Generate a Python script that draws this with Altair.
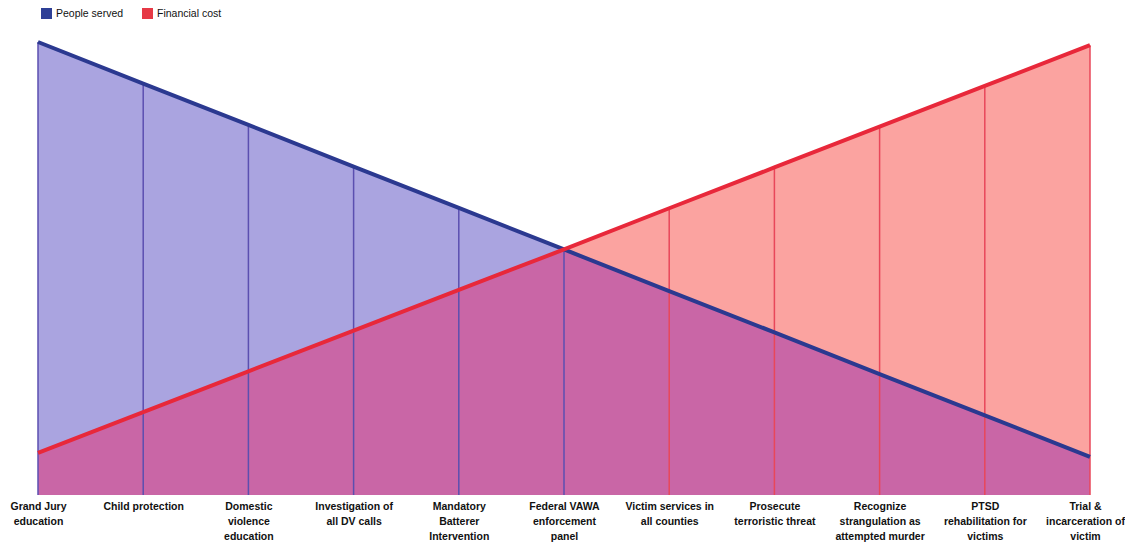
import altair as alt
import pandas as pd

categories = [
    "Grand Jury\neducation",
    "Child protection",
    "Domestic\nviolence\neducation",
    "Investigation of\nall DV calls",
    "Mandatory\nBatterer\nIntervention",
    "Federal VAWA\nenforcement\npanel",
    "Victim services in\nall counties",
    "Prosecute\nterroristic threat",
    "Recognize\nstrangulation as\nattempted murder",
    "PTSD\nrehabilitation for\nvictims",
    "Trial &\nincarceration of\nvictim",
]
people_served = [100, 90.8, 81.7, 72.5, 63.4, 54.2, 45.0, 35.9, 26.7, 17.6, 8.4]
financial_cost = [9.3, 18.3, 27.3, 36.3, 45.3, 54.2, 63.3, 72.3, 81.3, 90.3, 99.3]

series_names = ["People served", "Financial cost"]
line_colors = ["#2b3990", "#e8283a"]
legend_colors = ["#2e3f96", "#e63946"]
fill_colors = ["#aaa4e0", "#fba3a0"]
overlap_color = "#c966a6"

wide = pd.DataFrame({
    "idx": list(range(len(categories))),
    "cat": categories,
    "people": people_served,
    "cost": financial_cost,
})
long = pd.DataFrame({
    "idx": list(range(len(categories))) * 2,
    "series": [series_names[0]] * len(categories) + [series_names[1]] * len(categories),
    "value": people_served + financial_cost,
})

label_expr = "split([" + ",".join(
    "'" + c.replace("\n", "|") + "'" for c in categories
) + "][datum.value], '|')"

x = alt.X(
    "idx:Q",
    scale=alt.Scale(domain=[0, len(categories) - 1], nice=False, zero=False),
    axis=alt.Axis(
        values=list(range(len(categories))),
        labelExpr=label_expr,
        title=None,
        grid=False,
        domain=False,
        ticks=False,
        labelFont="Liberation Sans",
        labelFontWeight="bold",
        labelFontSize=10.5,
        labelColor="#111111",
        labelPadding=6,
        labelLineHeight=15,
        labelBaseline="top",
        labelFlush=False,
        labelOverlap=False,
        labelOffset={"condition": {"test": "datum.value == 10", "value": -5}, "value": 0},
    ),
)
yscale = alt.Scale(domain=[0, 100], nice=False)

base = alt.Chart(wide)

blue_area = base.mark_area(color=fill_colors[0]).encode(x=x, y=alt.Y("people:Q", scale=yscale, axis=None))
red_area = base.mark_area(color=fill_colors[1]).encode(x=x, y=alt.Y("cost:Q", scale=yscale, axis=None))
overlap = base.transform_calculate(
    lo="min(datum.people, datum.cost)"
).mark_area(color=overlap_color).encode(x=x, y=alt.Y("lo:Q", scale=yscale, axis=None))

rules = base.transform_calculate(
    hi="max(datum.people, datum.cost)",
    who="datum.people >= datum.cost ? 'People served' : 'Financial cost'",
).mark_rule(strokeWidth=1.5).encode(
    x=x,
    y=alt.Y("hi:Q", scale=yscale, axis=None),
    y2=alt.value(453),
    color=alt.Color("who:N", scale=alt.Scale(domain=series_names, range=["#5b4fb0", "#e8475a"]), legend=None),
)

lines = alt.Chart(long).mark_line(strokeWidth=4, strokeCap="butt").encode(
    x=x,
    y=alt.Y("value:Q", scale=yscale, axis=None),
    color=alt.Color("series:N", scale=alt.Scale(domain=series_names, range=line_colors), legend=None),
)

legend_layer = alt.Chart(long).mark_square(size=0, opacity=0).encode(
    x=x,
    y=alt.Y("value:Q", scale=yscale, axis=None),
    fill=alt.Fill(
        "series:N",
        scale=alt.Scale(domain=series_names, range=legend_colors),
        legend=alt.Legend(
            title=None,
            orient="none",
            legendX=3,
            legendY=-34,
            direction="horizontal",
            symbolType="square",
            symbolSize=121,
            symbolOpacity=1,
            symbolStrokeWidth=0,
            labelFont="Liberation Sans",
            labelFontSize=10.5,
            labelColor="#111111",
            columnPadding=18,
        ),
    ),
)

chart = alt.layer(blue_area, red_area, overlap, rules, lines, legend_layer).resolve_scale(
    color="independent"
).properties(
    width=1052,
    height=453,
    autosize=alt.AutoSizeParams(type="none"),
    padding={"left": 30, "top": 34, "right": 35, "bottom": 51},
).configure(background="white").configure_view(strokeOpacity=0, strokeWidth=0)

chart.save("out.html", embed_options={"renderer": "svg", "actions": False})
